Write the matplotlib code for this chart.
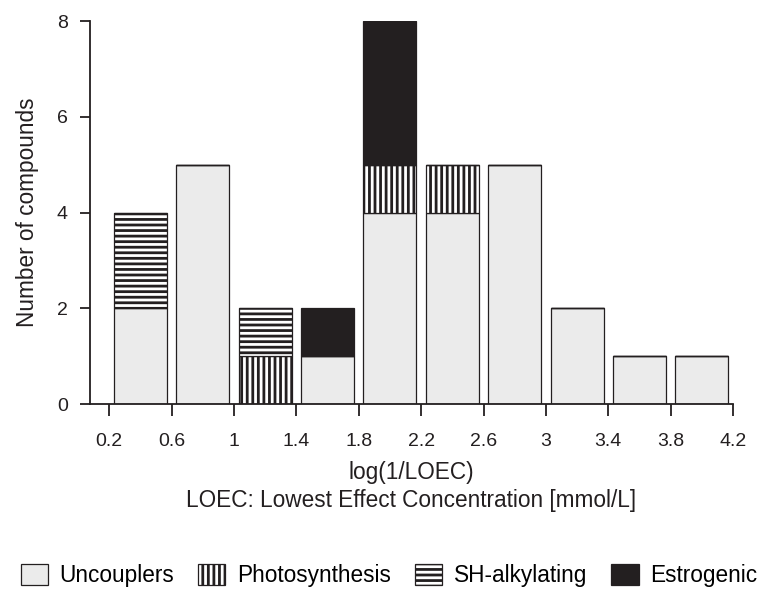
import matplotlib
matplotlib.use('Agg')
import matplotlib.pyplot as plt
import numpy as np

plt.rcParams['font.family'] = ['Liberation Sans', 'DejaVu Sans']
plt.rcParams['hatch.linewidth'] = 2.0

# bin centres of log(1/LOEC) classes (bin width 0.4)
bin_centers = [0.4, 0.8, 1.2, 1.6, 2.0, 2.4, 2.8, 3.2, 3.6, 4.0]
uncouplers = [2, 5, 0, 1, 4, 4, 5, 2, 1, 1]
photosynthesis = [0, 0, 1, 0, 1, 1, 0, 0, 0, 0]
sh_alkylating = [2, 0, 1, 0, 0, 0, 0, 0, 0, 0]
estrogenic = [0, 0, 0, 1, 3, 0, 0, 0, 0, 0]

tick_values = [0.2, 0.6, 1.0, 1.4, 1.8, 2.2, 2.6, 3.0, 3.4, 3.8, 4.2]
tick_labels = ['0.2', '0.6', '1', '1.4', '1.8', '2.2', '2.6', '3', '3.4', '3.8', '4.2']

dark = '#231f20'
fig = plt.figure(figsize=(7.66, 5.9), dpi=100)
ax = fig.add_axes([0.1175, 0.315, 0.957 - 0.1175, 0.964 - 0.315])

bottom = np.zeros(len(bin_centers))
series = [
    ('Uncouplers', uncouplers, '#ebebeb', None),
    ('Photosynthesis', photosynthesis, 'white', '|||'),
    ('SH-alkylating', sh_alkylating, 'white', '---'),
    ('Estrogenic', estrogenic, dark, None),
]
handles = []
for name, vals, fc, hatch in series:
    vals = np.array(vals, dtype=float)
    bars = ax.bar(bin_centers, vals, width=0.34, bottom=bottom, color=fc,
                  edgecolor=dark, linewidth=0.9, hatch=hatch, label=name)
    handles.append(bars)
    bottom += vals

ax.set_xlim(0.077, 4.2)
ax.set_ylim(0, 8)
ax.set_xticks(tick_values)
ax.set_xticklabels(tick_labels)
ax.set_yticks([0, 2, 4, 6, 8])

for side in ['top', 'right']:
    ax.spines[side].set_visible(False)
for side in ['left', 'bottom']:
    ax.spines[side].set_linewidth(1.3)
    ax.spines[side].set_color(dark)

ax.tick_params(axis='x', direction='out', length=8.5, width=1.3, pad=12,
               labelsize=14, colors=dark)
ax.tick_params(axis='y', direction='out', length=7, width=1.3, pad=9,
               labelsize=14, colors=dark)

ax.set_xlabel('log(1/LOEC)\nLOEC: Lowest Effect Concentration [mmol/L]',
              fontsize=16.3, linespacing=1.3, labelpad=8, color=dark)
ax.set_ylabel('Number of compounds', fontsize=16.3, labelpad=13, color=dark)

fig.legend(handles=handles, loc='center', bbox_to_anchor=(0.508, 0.024),
           ncol=4, frameon=False, fontsize=16.3, handlelength=1.2,
           handleheight=1.0, handletextpad=0.53, columnspacing=1.05,
           borderaxespad=0)

fig.savefig('out.png', dpi=100)
